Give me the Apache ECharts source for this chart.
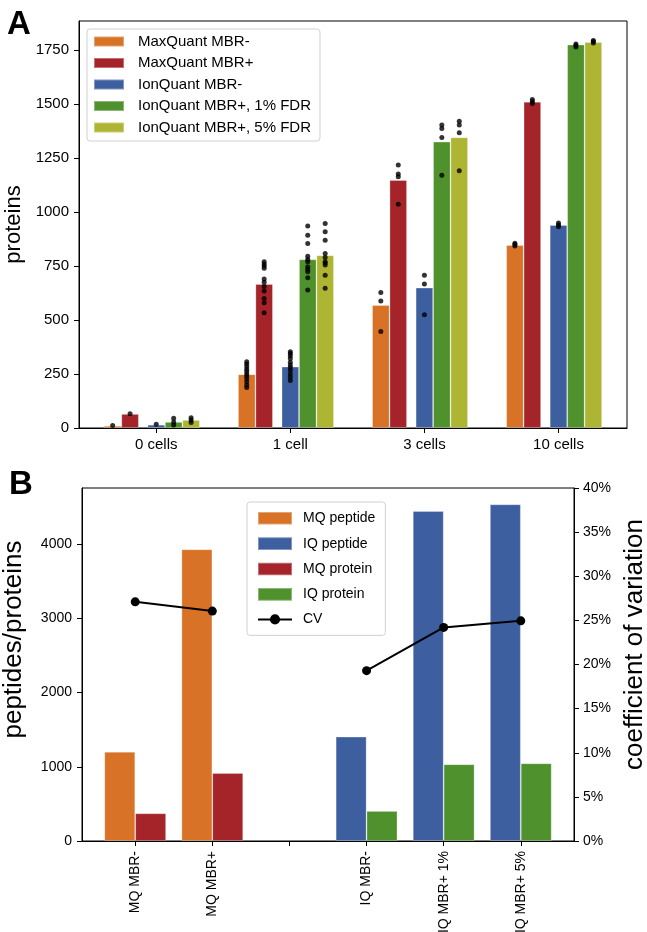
<!DOCTYPE html>
<html>
<head>
<meta charset="utf-8">
<script src="https://cdn.jsdelivr.net/npm/echarts@6/dist/echarts.min.js"></script>
<style>
html,body{margin:0;padding:0;background:#fff;}
#chart{width:647px;height:932px;}
</style>
</head>
<body>
<div id="chart"></div>
<script>
// ---- panel A: proteins per sample ----
var cellLabels = ['0 cells', '1 cell', '3 cells', '10 cells'];
var methodNames = ['MaxQuant MBR-', 'MaxQuant MBR+', 'IonQuant MBR-', 'IonQuant MBR+, 1% FDR', 'IonQuant MBR+, 5% FDR'];
var proteinTicks = [0, 250, 500, 750, 1000, 1250, 1500, 1750];

// bar heights
var mqMinus = [10, 249, 569, 847];
var mqPlus = [65, 667, 1148, 1511];
var iqMinus = [15, 284, 650, 940];
var iqPlus1 = [28, 781, 1326, 1776];
var iqPlus5 = [37, 800, 1346, 1787];

// single replicates (black dots)
var mqMinusDots = [[11], [307, 296, 285, 272, 262, 250, 240, 228, 214, 199, 188], [628, 588, 447], [843, 850, 856]];
var mqPlusDots = [[66], [770, 760, 750, 740, 690, 675, 655, 635, 600, 580, 534], [1218, 1176, 1164, 1036], [1503, 1512, 1522]];
var iqMinusDots = [[17], [353, 345, 335, 322, 305, 292, 280, 268, 250, 235, 220], [708, 667, 525], [932, 940, 950]];
var iqPlus1Dots = [[45, 28, 14], [935, 893, 855, 796, 780, 770, 747, 735, 724, 696, 639], [1403, 1387, 1346, 1171], [1765, 1772, 1778]];
var iqPlus5Dots = [[48, 37, 25], [947, 909, 870, 808, 790, 770, 764, 755, 708, 647], [1421, 1403, 1367, 1191], [1783, 1790, 1795]];

// ---- panel B: peptides/proteins and CV ----
var runLabels = ['MQ MBR-', 'MQ MBR+', '', 'IQ MBR-', 'IQ MBR+ 1%', 'IQ MBR+ 5%'];
var mqPeptide = [1203, 3931, null, null, null, null];
var mqProtein = [373, 916, null, null, null, null];
var iqPeptide = [null, null, null, 1406, 4447, 4537];
var iqProtein = [null, null, null, 404, 1034, 1047];
var cvValues = [27.1, 26.05, null, 19.3, 24.2, 24.95];
var countTicks = [0, 1000, 2000, 3000, 4000];

var colors = ['#D87227', '#A52429', '#3E5F9F', '#4F912D', '#AEB532'];
var font = 'Liberation Sans';

// layout
var gridA = {left: 79, top: 21, width: 548, height: 407};
var gridB = {left: 82, top: 488, width: 492, height: 353};
var aMin = -0.576, aMax = 3.511;
var aOffsets = [-0.325, -0.195, 0, 0.13, 0.26];
var aBarW = 0.13 * gridA.width / (aMax - aMin);
var bMin = -0.69, bMax = 5.69;
var bBarW = 0.4 * gridB.width / (bMax - bMin);

var myChart = echarts.init(document.getElementById('chart'));

var barsA = [mqMinus, mqPlus, iqMinus, iqPlus1, iqPlus5];
var dotsA = [mqMinusDots, mqPlusDots, iqMinusDots, iqPlus1Dots, iqPlus5Dots];

var series = [];
var dotData = [];
for (var m = 0; m < barsA.length; m++) {
	var d = [];
	for (var i = 0; i < barsA[m].length; i++) {
		d.push([i + aOffsets[m], barsA[m][i]]);
		for (var k = 0; k < dotsA[m][i].length; k++) {
			dotData.push([i + aOffsets[m], dotsA[m][i][k]]);
		}
	}
	series.push({
		name: methodNames[m], type: 'bar', xAxisIndex: 0, yAxisIndex: 0,
		barWidth: aBarW, barGap: '-100%', data: d,
		itemStyle: {color: colors[m], borderColor: 'rgba(255,255,255,0.35)', borderWidth: 0.8}
	});
}
series.push({
	name: 'replicates', type: 'scatter', xAxisIndex: 0, yAxisIndex: 0,
	data: dotData, symbolSize: 5, itemStyle: {color: '#000'}, z: 5
});

// panel B bars
function barData(arr, off) {
	var out = [];
	for (var i = 0; i < arr.length; i++) {
		if (arr[i] != null) out.push([i + off, arr[i]]);
	}
	return out;
}
var barsB = [
	{name: 'MQ peptide', data: mqPeptide, off: -0.2, color: colors[0]},
	{name: 'MQ protein', data: mqProtein, off: 0.2, color: colors[1]},
	{name: 'IQ peptide', data: iqPeptide, off: -0.2, color: colors[2]},
	{name: 'IQ protein', data: iqProtein, off: 0.2, color: colors[3]}
];
barsB.forEach(function (b) {
	series.push({
		name: b.name, type: 'bar', xAxisIndex: 1, yAxisIndex: 1,
		barWidth: bBarW, barGap: '-100%', data: barData(b.data, b.off),
		itemStyle: {color: b.color, borderColor: 'rgba(255,255,255,0.35)', borderWidth: 0.8}
	});
});
series.push({
	name: 'CV', type: 'line', xAxisIndex: 1, yAxisIndex: 2,
	data: cvValues.map(function (v, i) { return [i, v == null ? '-' : v]; }),
	symbol: 'circle', symbolSize: 9, color: '#000',
	lineStyle: {color: '#000', width: 2}, itemStyle: {color: '#000'}, z: 6
});

var axisCommon = {
	axisLine: {show: true, onZero: false, lineStyle: {color: '#000', width: 1}},
	axisTick: {show: true, length: 5, lineStyle: {color: '#000'}},
	splitLine: {show: false}
};

function idx(n) { var a = []; for (var i = 0; i < n; i++) a.push(i); return a; }
function plain(v) { return String(v); }

var option = {
	animation: false,
	textStyle: {fontFamily: font},
	title: [
		{text: 'A', left: 7, top: 8, padding: 0, textStyle: {fontSize: 33, fontWeight: 'bold', color: '#000', fontFamily: font}},
		{text: 'B', left: 9, top: 468, padding: 0, textStyle: {fontSize: 33, fontWeight: 'bold', color: '#000', fontFamily: font}}
	],
	grid: [
		{left: gridA.left, top: gridA.top, width: gridA.width, height: gridA.height, show: true, borderColor: '#000', borderWidth: 1, containLabel: false, outerBoundsMode: 'none'},
		{left: gridB.left, top: gridB.top, width: gridB.width, height: gridB.height, show: true, borderColor: '#000', borderWidth: 1, containLabel: false, outerBoundsMode: 'none'}
	],
	legend: [{
		data: methodNames.map(function (n) { return {name: n, icon: 'rect'}; }),
		orient: 'vertical', left: 87, top: 29,
		itemWidth: 30, itemHeight: 10, itemGap: 6.5,
		padding: [5, 9, 6, 6],
		borderColor: '#d0d0d0', borderWidth: 1, borderRadius: 3, backgroundColor: 'rgba(255,255,255,0.85)',
		textStyle: {fontSize: 15, color: '#000', lineHeight: 15, padding: [0, 0, 0, 9], fontFamily: font}
	}, {
		data: [{name: 'MQ peptide', icon: 'rect'}, {name: 'IQ peptide', icon: 'rect'}, {name: 'MQ protein', icon: 'rect'}, {name: 'IQ protein', icon: 'rect'}, {name: 'CV'}],
		orient: 'vertical', left: 247, top: 502,
		itemWidth: 34, itemHeight: 12.6, itemGap: 10.75,
		padding: [9, 10, 9, 10],
		borderColor: '#d0d0d0', borderWidth: 1, borderRadius: 3, backgroundColor: 'rgba(255,255,255,0.85)',
		textStyle: {fontSize: 14, color: '#000', lineHeight: 14, padding: [0, 0, 0, 6], fontFamily: font}
	}],
	xAxis: [
		echarts.util.merge({
			type: 'value', gridIndex: 0, min: aMin, max: aMax,
			axisTick: {customValues: idx(cellLabels.length)},
			axisLabel: {customValues: idx(cellLabels.length), formatter: function (v) { return cellLabels[Math.round(v)]; }, fontSize: 15, color: '#000', margin: 9}
		}, axisCommon),
		echarts.util.merge({
			type: 'value', gridIndex: 1, min: bMin, max: bMax,
			axisTick: {customValues: idx(runLabels.length)},
			axisLabel: {customValues: idx(runLabels.length), formatter: function (v) { return runLabels[Math.round(v)]; }, rotate: 90, fontSize: 14, color: '#000', margin: 10}
		}, axisCommon)
	],
	yAxis: [
		echarts.util.merge({
			type: 'value', gridIndex: 0, min: 0, max: 1885,
			axisTick: {customValues: proteinTicks},
			axisLabel: {customValues: proteinTicks, formatter: plain, fontSize: 15, color: '#000', margin: 10},
			name: 'proteins', nameLocation: 'middle', nameGap: 39,
			nameTextStyle: {fontSize: 22, color: '#000', fontFamily: font}
		}, axisCommon),
		echarts.util.merge({
			type: 'value', gridIndex: 1, min: 0, max: 4757,
			axisTick: {customValues: countTicks},
			axisLabel: {customValues: countTicks, formatter: plain, fontSize: 14, color: '#000', margin: 10},
			name: 'peptides/proteins', nameLocation: 'middle', nameGap: 55,
			nameTextStyle: {fontSize: 26, color: '#000', fontFamily: font, padding: [0, 0, 0, 50]}
		}, axisCommon),
		echarts.util.merge({
			type: 'value', gridIndex: 1, position: 'right', min: 0, max: 40, interval: 5,
			axisLabel: {formatter: '{value}%', fontSize: 14, color: '#000', margin: 9},
			name: 'coefficient of variation', nameLocation: 'middle', nameGap: 47, nameRotate: 90,
			nameTextStyle: {fontSize: 26, color: '#000', fontFamily: font, padding: [0, 0, 0, 40]}
		}, axisCommon)
	],
	series: series
};
myChart.setOption(option);
</script>
</body>
</html>
